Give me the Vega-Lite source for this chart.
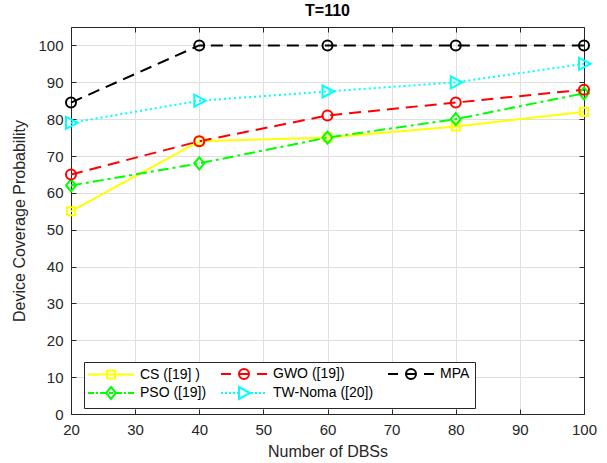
{
  "$schema": "https://vega.github.io/schema/vega-lite/v6.json",
  "width": 513,
  "height": 387,
  "autosize": {"type": "none"},
  "padding": {"left": 71, "top": 27, "right": 23, "bottom": 49},
  "background": "white",
  "title": {"text": "T=110", "fontSize": 16, "fontWeight": "bold", "color": "#000000", "offset": 8, "anchor": "middle", "font": "Liberation Sans"},
  "config": {
    "font": "Liberation Sans",
    "view": {"stroke": null},
    "legend": {
      "orient": "none", "legendX": 13, "legendY": 335, "columns": 3,
      "fillColor": "white", "strokeColor": "#262626", "padding": 5,
      "labelFontSize": 14, "labelColor": "#000000", "labelOffset": 37, "labelFont": "Liberation Sans",
      "symbolSize": 4, "symbolStrokeWidth": 2, "rowPadding": 0, "columnPadding": 10
    }
  },
  "data": {
    "values": [
      {"n": 20, "series": "CS ([19] )", "p": 55},
      {"n": 40, "series": "CS ([19] )", "p": 74},
      {"n": 60, "series": "CS ([19] )", "p": 75},
      {"n": 80, "series": "CS ([19] )", "p": 78},
      {"n": 100, "series": "CS ([19] )", "p": 82},
      {"n": 20, "series": "PSO ([19])", "p": 62},
      {"n": 40, "series": "PSO ([19])", "p": 68},
      {"n": 60, "series": "PSO ([19])", "p": 75},
      {"n": 80, "series": "PSO ([19])", "p": 80},
      {"n": 100, "series": "PSO ([19])", "p": 87},
      {"n": 20, "series": "GWO ([19])", "p": 65},
      {"n": 40, "series": "GWO ([19])", "p": 74},
      {"n": 60, "series": "GWO ([19])", "p": 81},
      {"n": 80, "series": "GWO ([19])", "p": 84.5},
      {"n": 100, "series": "GWO ([19])", "p": 88},
      {"n": 20, "series": "TW-Noma ([20])", "p": 79},
      {"n": 40, "series": "TW-Noma ([20])", "p": 85},
      {"n": 60, "series": "TW-Noma ([20])", "p": 87.5},
      {"n": 80, "series": "TW-Noma ([20])", "p": 90},
      {"n": 100, "series": "TW-Noma ([20])", "p": 95},
      {"n": 20, "series": "MPA", "p": 84.5},
      {"n": 40, "series": "MPA", "p": 100},
      {"n": 60, "series": "MPA", "p": 100},
      {"n": 80, "series": "MPA", "p": 100},
      {"n": 100, "series": "MPA", "p": 100}
    ]
  },
  "layer": [
    {
      "mark": {"type": "line", "strokeWidth": 2, "clip": false},
      "encoding": {
        "x": {
          "field": "n", "type": "quantitative",
          "scale": {"domain": [20, 100], "nice": false, "zero": false},
          "axis": {
            "orient": "bottom", "values": [20, 30, 40, 50, 60, 70, 80, 90, 100],
            "grid": true, "gridColor": "#dfdfdf", "gridWidth": 1,
            "tickSize": -5, "tickColor": "#262626", "domainColor": "#262626",
            "labelPadding": 13, "labelFontSize": 15, "labelColor": "#262626", "labelFlush": false,
            "title": "Number of DBSs", "titleFontSize": 16, "titleFontWeight": "normal",
            "titleColor": "#262626", "titlePadding": 6
          }
        },
        "y": {
          "field": "p", "type": "quantitative",
          "scale": {"domain": [0, 105], "nice": false},
          "axis": {
            "orient": "left", "values": [0, 10, 20, 30, 40, 50, 60, 70, 80, 90, 100],
            "grid": true, "gridColor": "#dfdfdf", "gridWidth": 1,
            "tickSize": -5, "tickColor": "#262626", "domainColor": "#262626",
            "labelPadding": 13, "labelFontSize": 15, "labelColor": "#262626", "labelFlush": false,
            "title": "Device Coverage Probability", "titleFontSize": 16, "titleFontWeight": "normal",
            "titleColor": "#262626", "titlePadding": 10
          }
        },
        "color": {
          "field": "series", "type": "nominal",
          "scale": {
            "domain": ["CS ([19] )", "PSO ([19])", "GWO ([19])", "TW-Noma ([20])", "MPA"],
            "range": ["#FFFF00", "#00FF00", "#FF0000", "#00FFFF", "#000000"]
          },
          "legend": {"title": null}
        },
        "strokeDash": {
          "field": "series", "type": "nominal",
          "scale": {
            "domain": ["MPA", "CS ([19] )", "PSO ([19])", "GWO ([19])", "TW-Noma ([20])"],
            "range": [[12, 7], [1, 0], [11, 4, 3, 4], [12, 7], [2, 3]]
          },
          "legend": null
        }
      }
    },
    {
      "transform": [{"filter": "datum.series === 'CS ([19] )'"}],
      "mark": {"type": "point", "filled": false, "strokeWidth": 2, "size": 100, "opacity": 1, "clip": false, "shape": "M-0.8,-0.8H0.8V0.8H-0.8Z"},
      "encoding": {
        "x": {
          "field": "n", "type": "quantitative",
          "axis": {
            "orient": "top", "values": [20, 30, 40, 50, 60, 70, 80, 90, 100],
            "labels": false, "grid": false, "title": null,
            "tickSize": -5, "tickColor": "#262626", "domainColor": "#262626"
          }
        },
        "y": {
          "field": "p", "type": "quantitative",
          "axis": {
            "orient": "right", "values": [0, 10, 20, 30, 40, 50, 60, 70, 80, 90, 100],
            "labels": false, "grid": false, "title": null,
            "tickSize": -5, "tickColor": "#262626", "domainColor": "#262626"
          }
        },
        "color": {"field": "series", "type": "nominal", "legend": {"title": null}}
      }
    },
    {
      "transform": [{"filter": "datum.series === 'PSO ([19])'"}],
      "mark": {"type": "point", "filled": false, "strokeWidth": 2, "size": 100, "opacity": 1, "clip": false, "shape": "M0,-1.2L1,0L0,1.2L-1,0Z"},
      "encoding": {
        "x": {"field": "n", "type": "quantitative", "axis": null},
        "y": {"field": "p", "type": "quantitative", "axis": null},
        "color": {"field": "series", "type": "nominal", "legend": {"title": null}}
      }
    },
    {
      "transform": [{"filter": "datum.series === 'GWO ([19])' || datum.series === 'MPA'"}],
      "mark": {"type": "point", "filled": false, "strokeWidth": 2, "size": 100, "opacity": 1, "clip": false, "shape": "circle"},
      "encoding": {
        "x": {"field": "n", "type": "quantitative", "axis": null},
        "y": {"field": "p", "type": "quantitative", "axis": null},
        "color": {"field": "series", "type": "nominal", "legend": {"title": null}}
      }
    },
    {
      "transform": [{"filter": "datum.series === 'TW-Noma ([20])'"}],
      "mark": {"type": "point", "filled": false, "strokeWidth": 2, "size": 100, "opacity": 1, "clip": false, "shape": "M-1,-1.2L1.3,0L-1,1.2Z"},
      "encoding": {
        "x": {"field": "n", "type": "quantitative", "axis": null},
        "y": {"field": "p", "type": "quantitative", "axis": null},
        "color": {"field": "series", "type": "nominal", "legend": {"title": null}}
      }
    },
    {
      "transform": [{"filter": "datum.p < 0"}],
      "mark": {"type": "point", "filled": false, "strokeWidth": 2, "opacity": 1},
      "encoding": {
        "color": {"field": "series", "type": "nominal", "legend": {"title": null}},
        "shape": {
          "field": "series", "type": "nominal",
          "scale": {
            "domain": ["CS ([19] )", "PSO ([19])", "GWO ([19])", "TW-Noma ([20])", "MPA"],
            "range": [
              "M-8,0H38M11,-4H19V4H11Z",
              "M-8,0H-2M0,0H2M4,0H10M13,0H17M20,0H26M28,0H30M32,0H38M15,-6L20,0L15,6L10,0Z",
              "M-8,0H2M10,0H20M28,0H38M20,0A5,5,0,1,1,10,0A5,5,0,1,1,20,0",
              "M-8,0H-6M-4,0H-2M0,0H2M4,0H6M8,0H10M22,0H24M26,0H28M30,0H32M34,0H36M10,-6L21,0L10,6Z",
              "M-8,0H2M10,0H20M28,0H38M20,0A5,5,0,1,1,10,0A5,5,0,1,1,20,0"
            ]
          },
          "legend": {"title": null}
        }
      }
    }
  ],
  "resolve": {"axis": {"x": "independent", "y": "independent"}}
}
